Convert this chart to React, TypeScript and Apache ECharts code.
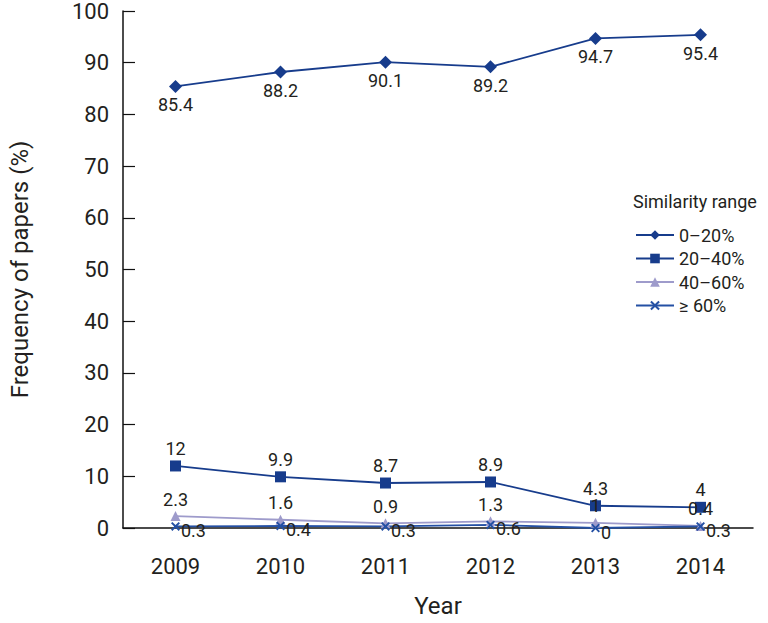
import React, { useEffect, useRef } from "react";
import * as echarts from "echarts";

const years = ["2009", "2010", "2011", "2012", "2013", "2014"];
const range0to20 = [85.4, 88.2, 90.1, 89.2, 94.7, 95.4];
const range20to40 = [12, 9.9, 8.7, 8.9, 4.3, 4];
const range40to60 = [2.3, 1.6, 0.9, 1.3, 1, 0.4];
const range60plus = [0.3, 0.4, 0.3, 0.6, 0, 0.3];
const seriesNames = ["0–20%", "20–40%", "40–60%", "≥ 60%"];

const FONT = "Roboto, 'Liberation Sans', sans-serif";
const TEXT = "#231f20";
const NAVY = "#173c8c";
const LAVENDER = "#9e9bcb";
const BLUE = "#2450a4";
const CROSS = "path://M0,1.5L1.5,0L5,3.5L8.5,0L10,1.5L6.5,5L10,8.5L8.5,10L5,6.5L1.5,10L0,8.5L3.5,5Z";

export default function App() {
  const ref = useRef<HTMLDivElement>(null);
  useEffect(() => {
    if (!ref.current) return;
    const chart = echarts.init(ref.current, null, { renderer: "svg" });
    const labelBase = { show: true, fontFamily: FONT, fontSize: 18, color: TEXT };
    chart.setOption({
      animation: false,
      backgroundColor: "#fff",
      textStyle: { fontFamily: FONT },
      title: {
        text: "Similarity range",
        left: 633,
        top: 192,
        padding: 0,
        textStyle: { fontFamily: FONT, fontSize: 18, fontWeight: "normal", color: TEXT },
      },
      legend: {
        orient: "vertical",
        left: 635,
        top: 226,
        padding: 0,
        itemWidth: 38,
        itemHeight: 12,
        itemGap: 5.5,
        textStyle: { fontFamily: FONT, fontSize: 18, lineHeight: 18, color: TEXT },
        data: seriesNames,
      },
      grid: { left: 110, top: 10, right: 15, bottom: 90, containLabel: false },
      xAxis: {
        type: "category",
        data: years,
        boundaryGap: true,
        name: "Year",
        nameLocation: "middle",
        nameGap: 66,
        nameTextStyle: { fontFamily: FONT, fontSize: 24, color: TEXT },
        axisLine: { show: true, lineStyle: { color: "#111", width: 1.5 } },
        axisTick: { show: false },
        splitLine: { show: false },
        axisLabel: { margin: 27, fontFamily: FONT, fontSize: 22, color: TEXT },
      },
      yAxis: {
        type: "value",
        min: 0,
        max: 100,
        interval: 10,
        name: "Frequency of papers (%)",
        nameLocation: "middle",
        nameGap: 91,
        nameTextStyle: { fontFamily: FONT, fontSize: 24, color: TEXT },
        axisLine: { show: true, lineStyle: { color: "#111", width: 1.5 } },
        axisTick: { show: true, inside: true, length: 12, lineStyle: { color: "#111", width: 1.2 } },
        splitLine: { show: false },
        axisLabel: { margin: 14, fontFamily: FONT, fontSize: 22, color: TEXT },
      },
      series: [
        {
          name: seriesNames[0],
          type: "line",
          data: range0to20,
          color: NAVY,
          symbol: "diamond",
          symbolSize: 13,
          lineStyle: { width: 1.8, color: NAVY },
          label: { ...labelBase, position: "bottom", distance: 3 },
        },
        {
          name: seriesNames[1],
          type: "line",
          data: range20to40,
          color: NAVY,
          symbol: "rect",
          symbolSize: 11,
          lineStyle: { width: 1.8, color: NAVY },
          label: { ...labelBase, position: "top", distance: 3 },
        },
        {
          name: seriesNames[2],
          type: "line",
          data: range40to60,
          color: LAVENDER,
          symbol: "triangle",
          symbolSize: 10,
          lineStyle: { width: 1.8, color: LAVENDER },
          label: { ...labelBase, position: "top", distance: 3 },
        },
        {
          name: seriesNames[3],
          type: "line",
          data: range60plus,
          color: BLUE,
          symbol: CROSS,
          symbolSize: 9,
          lineStyle: { width: 1.8, color: BLUE },
          label: { ...labelBase, position: "right", distance: 1, offset: [0, 4] },
        },
      ],
    });
    return () => chart.dispose();
  }, []);
  return <div ref={ref} style={{ width: 768, height: 623, position: "absolute", left: 0, top: 0 }} />;
}
